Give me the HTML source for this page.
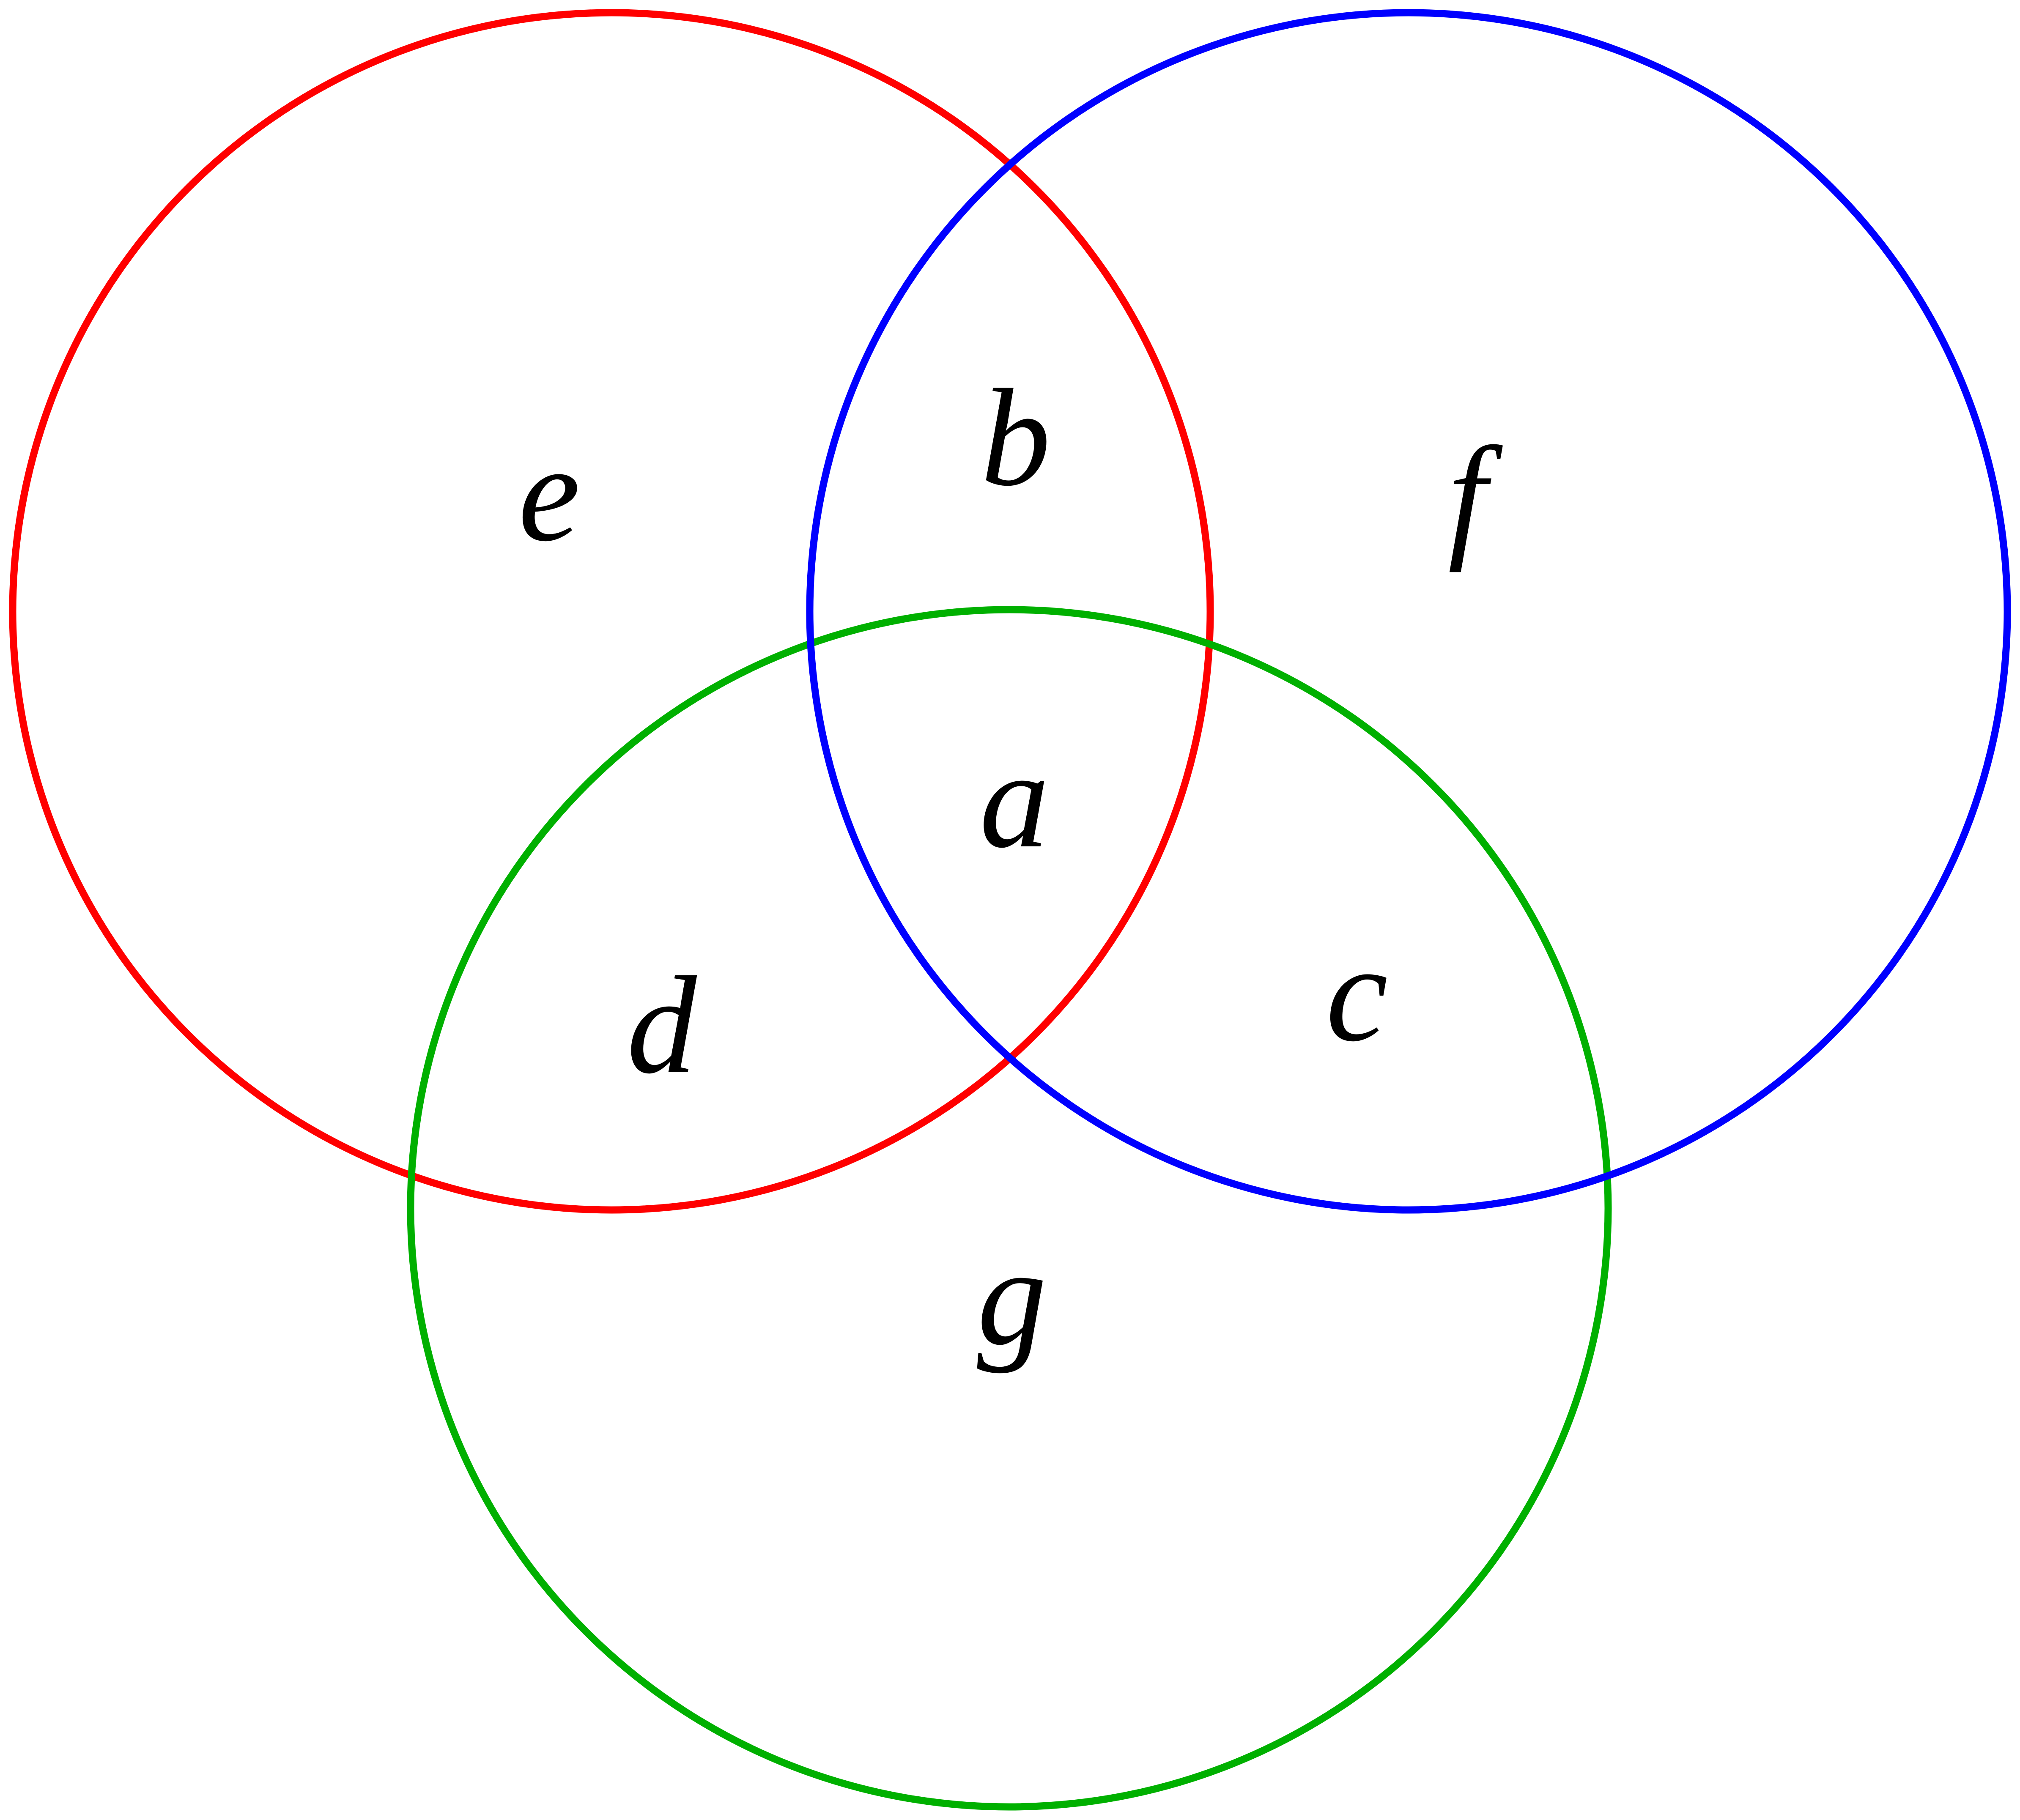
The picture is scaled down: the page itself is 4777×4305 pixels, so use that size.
<!DOCTYPE html>
<html>
<head>
<meta charset="utf-8">
<style>
html,body{margin:0;padding:0;background:#fff;}
svg{display:block;}
text{font-family:"Liberation Serif",serif;font-style:italic;font-size:330px;fill:#000;text-anchor:middle;}
</style>
</head>
<body>
<svg width="4777" height="4305" viewBox="0 0 4777 4305" xmlns="http://www.w3.org/2000/svg">
<rect width="4777" height="4305" fill="#fff"/>
<circle cx="1446" cy="1446" r="1416" fill="none" stroke="#ff0000" stroke-width="17"/>
<circle cx="2387" cy="2858" r="1416" fill="none" stroke="#00b000" stroke-width="17"/>
<circle cx="3331" cy="1446" r="1416" fill="none" stroke="#0000ff" stroke-width="17"/>
<text x="1299" y="1277">e</text>
<text x="2402" y="1146">b</text>
<text x="3470" y="1283">f</text>
<text x="2399" y="2002">a</text>
<text x="1565" y="2536">d</text>
<text x="3209" y="2460">c</text>
<text x="2393" y="3178">g</text>
</svg>
</body>
</html>
